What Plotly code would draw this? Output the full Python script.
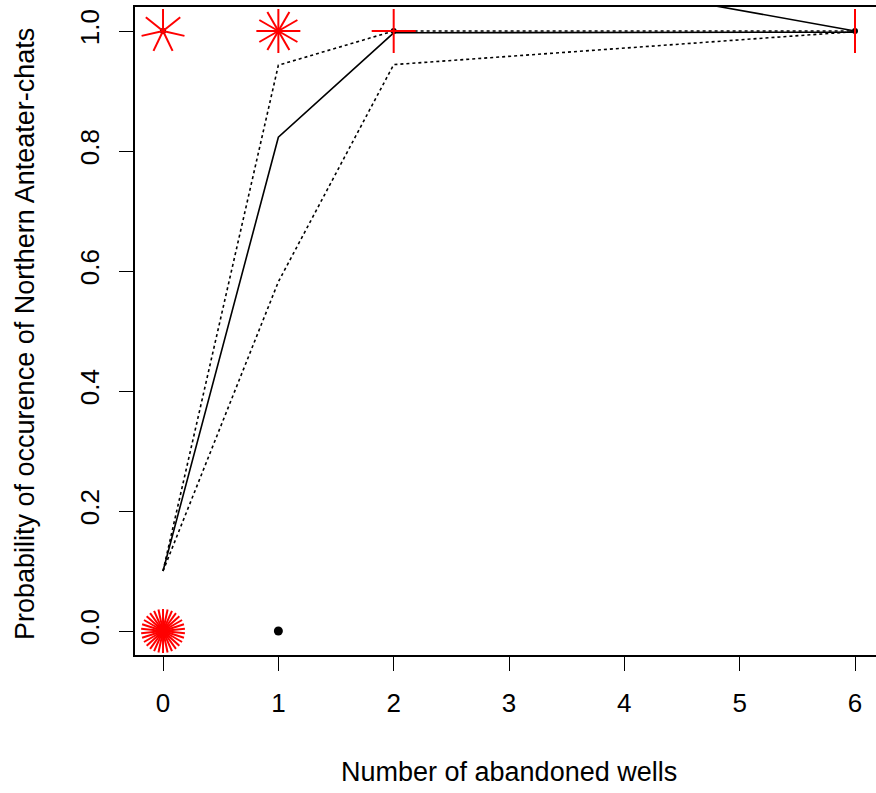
import numpy as np
import plotly.graph_objects as go

# ---- data ----
wells = [0, 1, 2, 6]
fit = [0.10, 0.823, 0.997, 0.998]
upper = [0.10, 0.943, 1.0, 1.0]
lower = [0.10, 0.582, 0.944, 0.999]
extra_x = [4, 6]
extra_y = [1.069, 1.0]

obs_x = [0, 0, 1, 1, 2, 6]
obs_y = [1, 0, 1, 0, 1, 1]
obs_n = [7, 30, 12, 1, 4, 2]

x_ticks = [0, 1, 2, 3, 4, 5, 6]
x_ticklabels = ["0", "1", "2", "3", "4", "5", "6"]
y_ticks = [0.0, 0.2, 0.4, 0.6, 0.8, 1.0]
y_ticklabels = ["0.0", "0.2", "0.4", "0.6", "0.8", "1.0"]

x_title = "Number of abandoned wells"
y_title = "Probability of occurence of Northern Anteater-chats"

# ---- layout geometry ----
W, H = 876, 793
ml, mr, mt, mb = 135, 0, 7, 138
xr = [-0.243, 6.182]
yr = [-0.04, 1.04]
pw, ph = W - ml - mr, H - mt - mb
petal_px = 22
dx = petal_px * (xr[1] - xr[0]) / pw
dy = petal_px * (yr[1] - yr[0]) / ph

FONT = "Liberation Sans, Arial, sans-serif"
FS = 26
FS_TITLE = 27

fig = go.Figure()

# fitted curve and confidence bands
fig.add_trace(go.Scatter(x=wells, y=upper, mode="lines",
                         line=dict(color="black", width=1.6, dash="dot"), showlegend=False))
fig.add_trace(go.Scatter(x=wells, y=lower, mode="lines",
                         line=dict(color="black", width=1.6, dash="dot"), showlegend=False))
fig.add_trace(go.Scatter(x=wells, y=fit, mode="lines",
                         line=dict(color="black", width=1.6), showlegend=False))
fig.add_trace(go.Scatter(x=extra_x, y=extra_y, mode="lines",
                         line=dict(color="black", width=1.6), showlegend=False))

# sunflower centers
sx = [x for x, n in zip(obs_x, obs_n) if n == 1]
sy = [y for y, n in zip(obs_y, obs_n) if n == 1]
mx = [x for x, n in zip(obs_x, obs_n) if n > 1]
my = [y for y, n in zip(obs_y, obs_n) if n > 1]
fig.add_trace(go.Scatter(x=sx, y=sy, mode="markers",
                         marker=dict(color="black", size=9), showlegend=False))
fig.add_trace(go.Scatter(x=mx, y=my, mode="markers",
                         marker=dict(color="black", size=6), showlegend=False))

# sunflower petals
px_, py_ = [], []
for x, y, n in zip(obs_x, obs_y, obs_n):
    if n > 1:
        for k in range(1, n + 1):
            deg = 2 * np.pi * k / n
            px_ += [x, x + dx * np.sin(deg), None]
            py_ += [y, y + dy * np.cos(deg), None]
fig.add_trace(go.Scatter(x=px_, y=py_, mode="lines",
                         line=dict(color="red", width=2), showlegend=False))

fig.update_layout(
    width=W, height=H,
    margin=dict(l=ml, r=mr, t=mt, b=mb, pad=0),
    paper_bgcolor="white", plot_bgcolor="white",
    font=dict(family=FONT, size=FS, color="black"),
    hovermode=False,
    xaxis=dict(range=xr, tickvals=x_ticks, ticktext=x_ticklabels,
               showgrid=False, zeroline=False, showline=True, mirror=True,
               linecolor="black", linewidth=1.6, ticks="outside", ticklen=14,
               tickwidth=1.2, tickcolor="black", ticklabelstandoff=10),
    yaxis=dict(range=yr, tickvals=y_ticks, ticktext=y_ticklabels, tickangle=-90,
               showgrid=False, zeroline=False, showline=True,
               linecolor="black", linewidth=1.6, ticks="outside", ticklen=14,
               tickwidth=1.2, tickcolor="black", ticklabelstandoff=10),
    annotations=[
        dict(text=x_title, xref="paper", yref="paper", x=(509 - ml) / pw,
             y=(H - mb - 772) / ph, xanchor="center", yanchor="middle",
             showarrow=False, font=dict(size=FS_TITLE)),
        dict(text=y_title, xref="paper", yref="paper", x=(25 - ml) / pw,
             y=(H - mb - 334) / ph, xanchor="center", yanchor="middle",
             textangle=-90, showarrow=False, font=dict(size=FS_TITLE)),
    ],
)

fig.write_html("out.html", config={"displayModeBar": False},
               post_script="document.body.style.margin='0px';")
